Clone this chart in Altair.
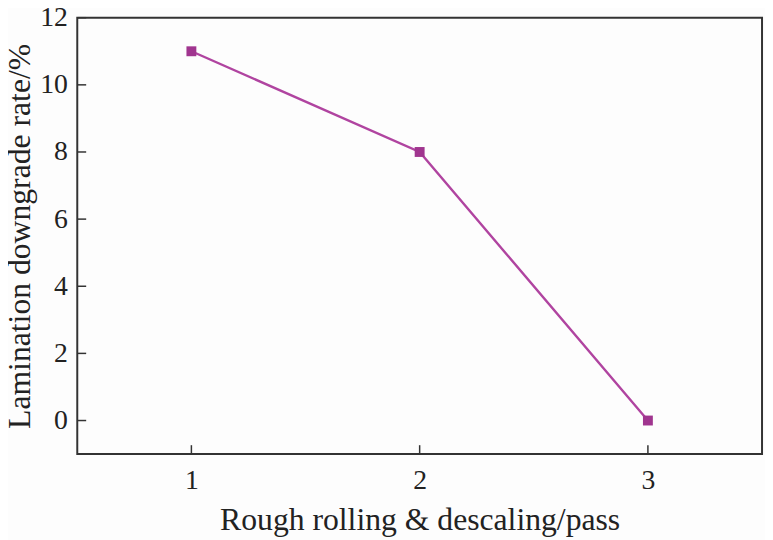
import altair as alt
import pandas as pd

passes = [1, 2, 3]
rates = [11.0, 8.0, 0.0]
y_ticks = [0, 2, 4, 6, 8, 10, 12]
x_ticks = [1, 2, 3]

df = pd.DataFrame({"pass": passes, "rate": rates})
yt = pd.DataFrame({"v": y_ticks})
xt = pd.DataFrame({"v": x_ticks})

LINE_COLOR = "#b044a0"
MARK_COLOR = "#a0358f"
FONT = "Liberation Serif"

xs = alt.Scale(domain=[0.5, 3.5], nice=False, zero=False)
ys = alt.Scale(domain=[-1, 12], nice=False, zero=False)

xaxis = alt.Axis(values=x_ticks, format="d", ticks=False, grid=False, domain=False,
                 labelPadding=13, title="Rough rolling & descaling/pass", titlePadding=10)
yaxis = alt.Axis(values=y_ticks, format="d", ticks=False, grid=False, domain=False,
                 labelPadding=10, title="Lamination downgrade rate/%", titlePadding=3)

line = alt.Chart(df).mark_line(color=LINE_COLOR, strokeWidth=2.4).encode(
    x=alt.X("pass:Q", scale=xs, axis=xaxis),
    y=alt.Y("rate:Q", scale=ys, axis=yaxis),
)
pts = alt.Chart(df).mark_square(color=MARK_COLOR, size=100, opacity=1).encode(
    x=alt.X("pass:Q", scale=xs),
    y=alt.Y("rate:Q", scale=ys),
)
ytick = alt.Chart(yt).mark_rule(color="#333", strokeWidth=1.5).encode(
    y=alt.Y("v:Q", scale=ys), x=alt.value(0), x2=alt.value(9)
)
xtick = alt.Chart(xt).mark_rule(color="#333", strokeWidth=1.5).encode(
    x=alt.X("v:Q", scale=xs), y=alt.value(441), y2=alt.value(432)
)

chart = alt.layer(ytick, xtick, line, pts).properties(
    width=692, height=441,
    padding={"left": 70, "top": 7, "right": 3, "bottom": 84},
    autosize=alt.AutoSizeParams(type="none"),
    background="#fdfdfd",
).configure_view(
    stroke="#333", strokeWidth=2
).configure_axis(
    labelFont=FONT, titleFont=FONT, labelFontSize=28, titleFontSize=32,
    labelColor="#222", titleColor="#222", titleFontWeight="normal",
)

chart.save("out.html", embed_options={"renderer": "svg", "actions": False})
